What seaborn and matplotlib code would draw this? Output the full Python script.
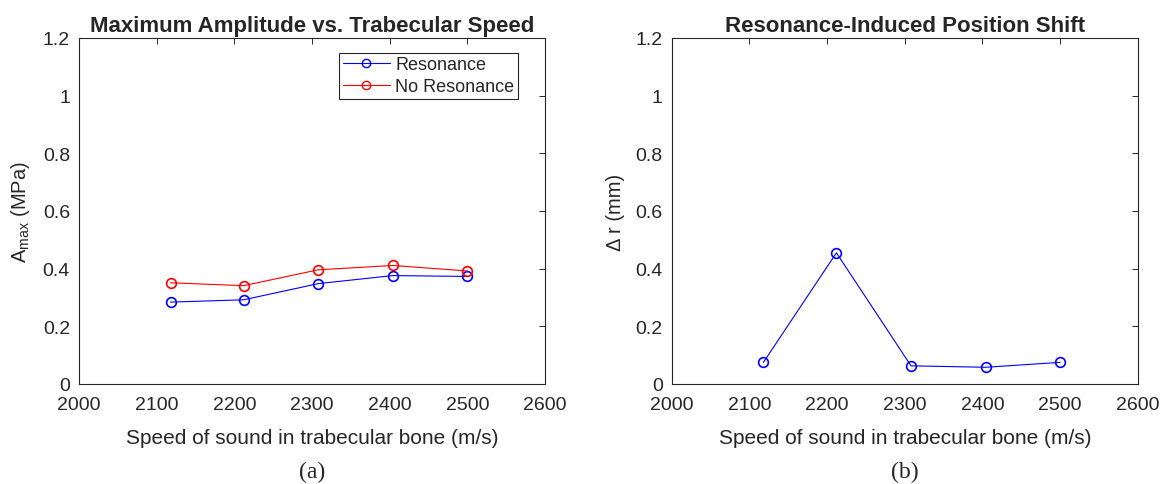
import matplotlib
matplotlib.use("Agg")
import matplotlib.pyplot as plt
from matplotlib.lines import Line2D
import seaborn as sns
import pandas as pd

speeds = [2118, 2212, 2308, 2404, 2500]
amp_resonance = [0.284, 0.292, 0.348, 0.376, 0.373]
amp_no_resonance = [0.351, 0.341, 0.396, 0.411, 0.392]
shift_mm = [0.075, 0.455, 0.063, 0.058, 0.075]
xticks = [2000, 2100, 2200, 2300, 2400, 2500, 2600]
yticks = [0, 0.2, 0.4, 0.6, 0.8, 1, 1.2]
ytick_labels = ["0", "0.2", "0.4", "0.6", "0.8", "1", "1.2"]
series_names = ["Resonance", "No Resonance"]

sns.set_style("white")
plt.rcParams['font.family'] = ['Liberation Sans', 'DejaVu Sans']
plt.rcParams['mathtext.fontset'] = 'custom'
plt.rcParams['mathtext.rm'] = 'Liberation Sans'

fig = plt.figure(figsize=(11.61, 4.85), dpi=100)
ax1 = fig.add_axes([0.068, 0.2062, 0.4014, 0.7134])
ax2 = fig.add_axes([0.5786, 0.2062, 0.4014, 0.7134])

df1 = pd.DataFrame({
    "speed": speeds * 2,
    "amp": amp_resonance + amp_no_resonance,
    "series": [series_names[0]] * len(speeds) + [series_names[1]] * len(speeds),
})
df2 = pd.DataFrame({"speed": speeds, "shift": shift_mm})

palette = {"Resonance": "#0000ff", "No Resonance": "#ff0000"}
sns.lineplot(data=df1, x="speed", y="amp", hue="series", palette=palette,
             hue_order=series_names, marker="o", markersize=7,
             markerfacecolor="none", linewidth=0.8, ax=ax1, legend=False)
for line, c in zip(ax1.lines, ["#0000ff", "#ff0000"]):
    line.set_markeredgecolor(c)
    line.set_markeredgewidth(1.2)

sns.lineplot(data=df2, x="speed", y="shift", marker="o", markersize=7,
             markerfacecolor="none", color="#0000ff", linewidth=0.8, ax=ax2)
for line in ax2.lines:
    line.set_markeredgecolor("#0000ff")
    line.set_markeredgewidth(1.2)

handles = [Line2D([], [], color=palette[s], marker="o", markerfacecolor="none",
                  markeredgecolor=palette[s], markersize=6, linewidth=0.8)
           for s in series_names]
leg = ax1.legend(handles, series_names, loc="upper right",
                 bbox_to_anchor=(0.942, 0.957), borderaxespad=0,
                 fontsize=13, frameon=True, fancybox=False,
                 edgecolor="#262626", framealpha=1,
                 handlelength=2.6, borderpad=0.2, labelspacing=0.25,
                 handletextpad=0.3)
leg.get_frame().set_linewidth(0.8)

for ax, title, ylabel, cap in [
    (ax1, "Maximum Amplitude vs. Trabecular Speed", r"A$_{\mathrm{max}}$ (MPa)", "(a)"),
    (ax2, "Resonance-Induced Position Shift", "Δ r (mm)", "(b)"),
]:
    ax.set_xlim(2000, 2600)
    ax.set_ylim(0, 1.2)
    ax.set_xticks(xticks)
    ax.set_yticks(yticks)
    ax.set_yticklabels(ytick_labels)
    ax.tick_params(direction="in", top=True, right=True, length=4, width=0.7,
                   labelsize=14, colors="#262626")
    ax.tick_params(axis="x", pad=9)
    ax.tick_params(axis="y", pad=6.5)
    for sp in ax.spines.values():
        sp.set_visible(True)
        sp.set_color("#262626")
        sp.set_linewidth(0.8)
    ax.set_title(title, fontsize=16, fontweight="bold", pad=5)
    ax.set_xlabel("Speed of sound in trabecular bone (m/s)", fontsize=15, color="#262626")
    ax.xaxis.set_label_coords(0.5, -0.128)
    ax.set_ylabel(ylabel, fontsize=14.5, color="#262626")
    ax.yaxis.set_label_coords(-0.1, 0.5)
    ax.text(0.5, -0.252, cap, transform=ax.transAxes, ha="center", va="center",
            fontsize=17, family=["Liberation Serif", "DejaVu Serif"])

fig.savefig("out.png", dpi=100, facecolor="white")
